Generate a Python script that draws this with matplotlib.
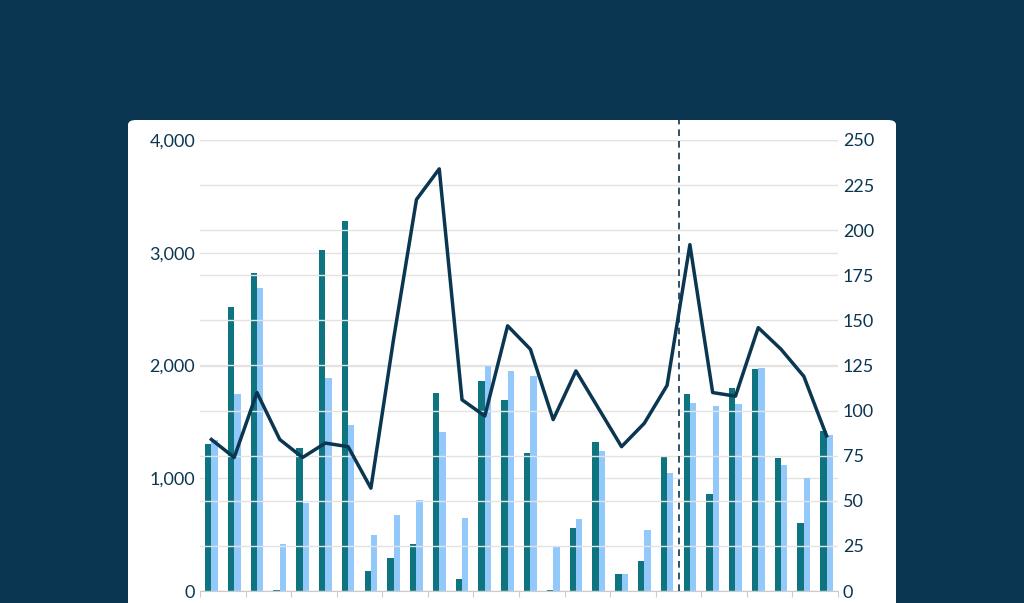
import matplotlib
matplotlib.use("Agg")
import matplotlib.pyplot as plt
from matplotlib.patches import FancyBboxPatch
import numpy as np

teal = [1300, 2520, 2820, 10, 1270, 3020, 3280, 180, 290, 420, 1760, 110, 1860, 1690,
        1220, 10, 560, 1320, 150, 270, 1200, 1750, 860, 1800, 1970, 1180, 600, 1420]
light = [1340, 1750, 2690, 420, 780, 1890, 1470, 500, 670, 810, 1410, 650, 2000, 1950,
         1910, 390, 640, 1240, 150, 540, 1050, 1670, 1640, 1660, 1980, 1120, 1000, 1380]
line = [84, 74, 110, 84, 74, 82, 80, 57, 140, 217, 234, 106, 97, 147,
        134, 95, 122, 101, 80, 93, 114, 192, 110, 108, 146, 134, 119, 86]

navy = "#0b3651"
fig = plt.figure(figsize=(10.24, 6.03), dpi=100)
fig.patch.set_facecolor(navy)
panel = FancyBboxPatch((128/1024, -0.05), (896-128)/1024, 0.05 + 1-120/603,
                       boxstyle="round,pad=0,rounding_size=0.008", transform=fig.transFigure,
                       facecolor="white", edgecolor="none", zorder=-10)
fig.patches.append(panel)

ax = fig.add_axes([200/1024, 1-591/603, 638/1024, (591-140)/603])
ax.set_zorder(5)
ax.set_facecolor("none")
x = np.arange(len(teal))
w = 0.28
ax.bar(x - w/2, teal, w, color="#0e7480", zorder=3)
ax.bar(x + w/2, light, w, color="#93c8fb", zorder=3)
ax.set_xlim(-0.45, 27.5)
ax.set_ylim(0, 4000)
ax.set_yticks(range(0, 4001, 1000))
ax.set_yticklabels(["0", "1,000", "2,000", "3,000", "4,000"])
ax.grid(axis="y", color="#e3e3e3", lw=1, zorder=0)
ax.set_xticks(np.arange(-0.5, 28, 2), labels=[])
ax.tick_params(axis="x", length=4, color="#cccccc")
ax.tick_params(axis="y", length=0, labelsize=13, labelcolor=navy)
for s in ["top", "right", "left"]:
    ax.spines[s].set_visible(False)
ax.spines["bottom"].set_color("#cccccc")

ax2 = ax.twinx()
ax2.set_zorder(6)
ax2.set_facecolor("none")
ax2.plot(x, line, color=navy, lw=2.5, zorder=4)
ax2.set_ylim(0, 250)
ax2.set_yticks(range(0, 251, 25))
ax2.grid(axis="y", color="#e3e3e3", lw=1, zorder=0)
ax2.tick_params(axis="y", length=0, labelsize=13, labelcolor=navy)
for s in ax2.spines.values():
    s.set_visible(False)
ax2.axvline(20.5, color=navy, lw=1.2, ls=(0, (4, 3)), ymax=1.045, clip_on=False)

for a in (ax, ax2):
    for t in a.get_yticklabels():
        t.set_fontfamily("Lato")

fig.savefig("out.png", dpi=100, facecolor=navy)
